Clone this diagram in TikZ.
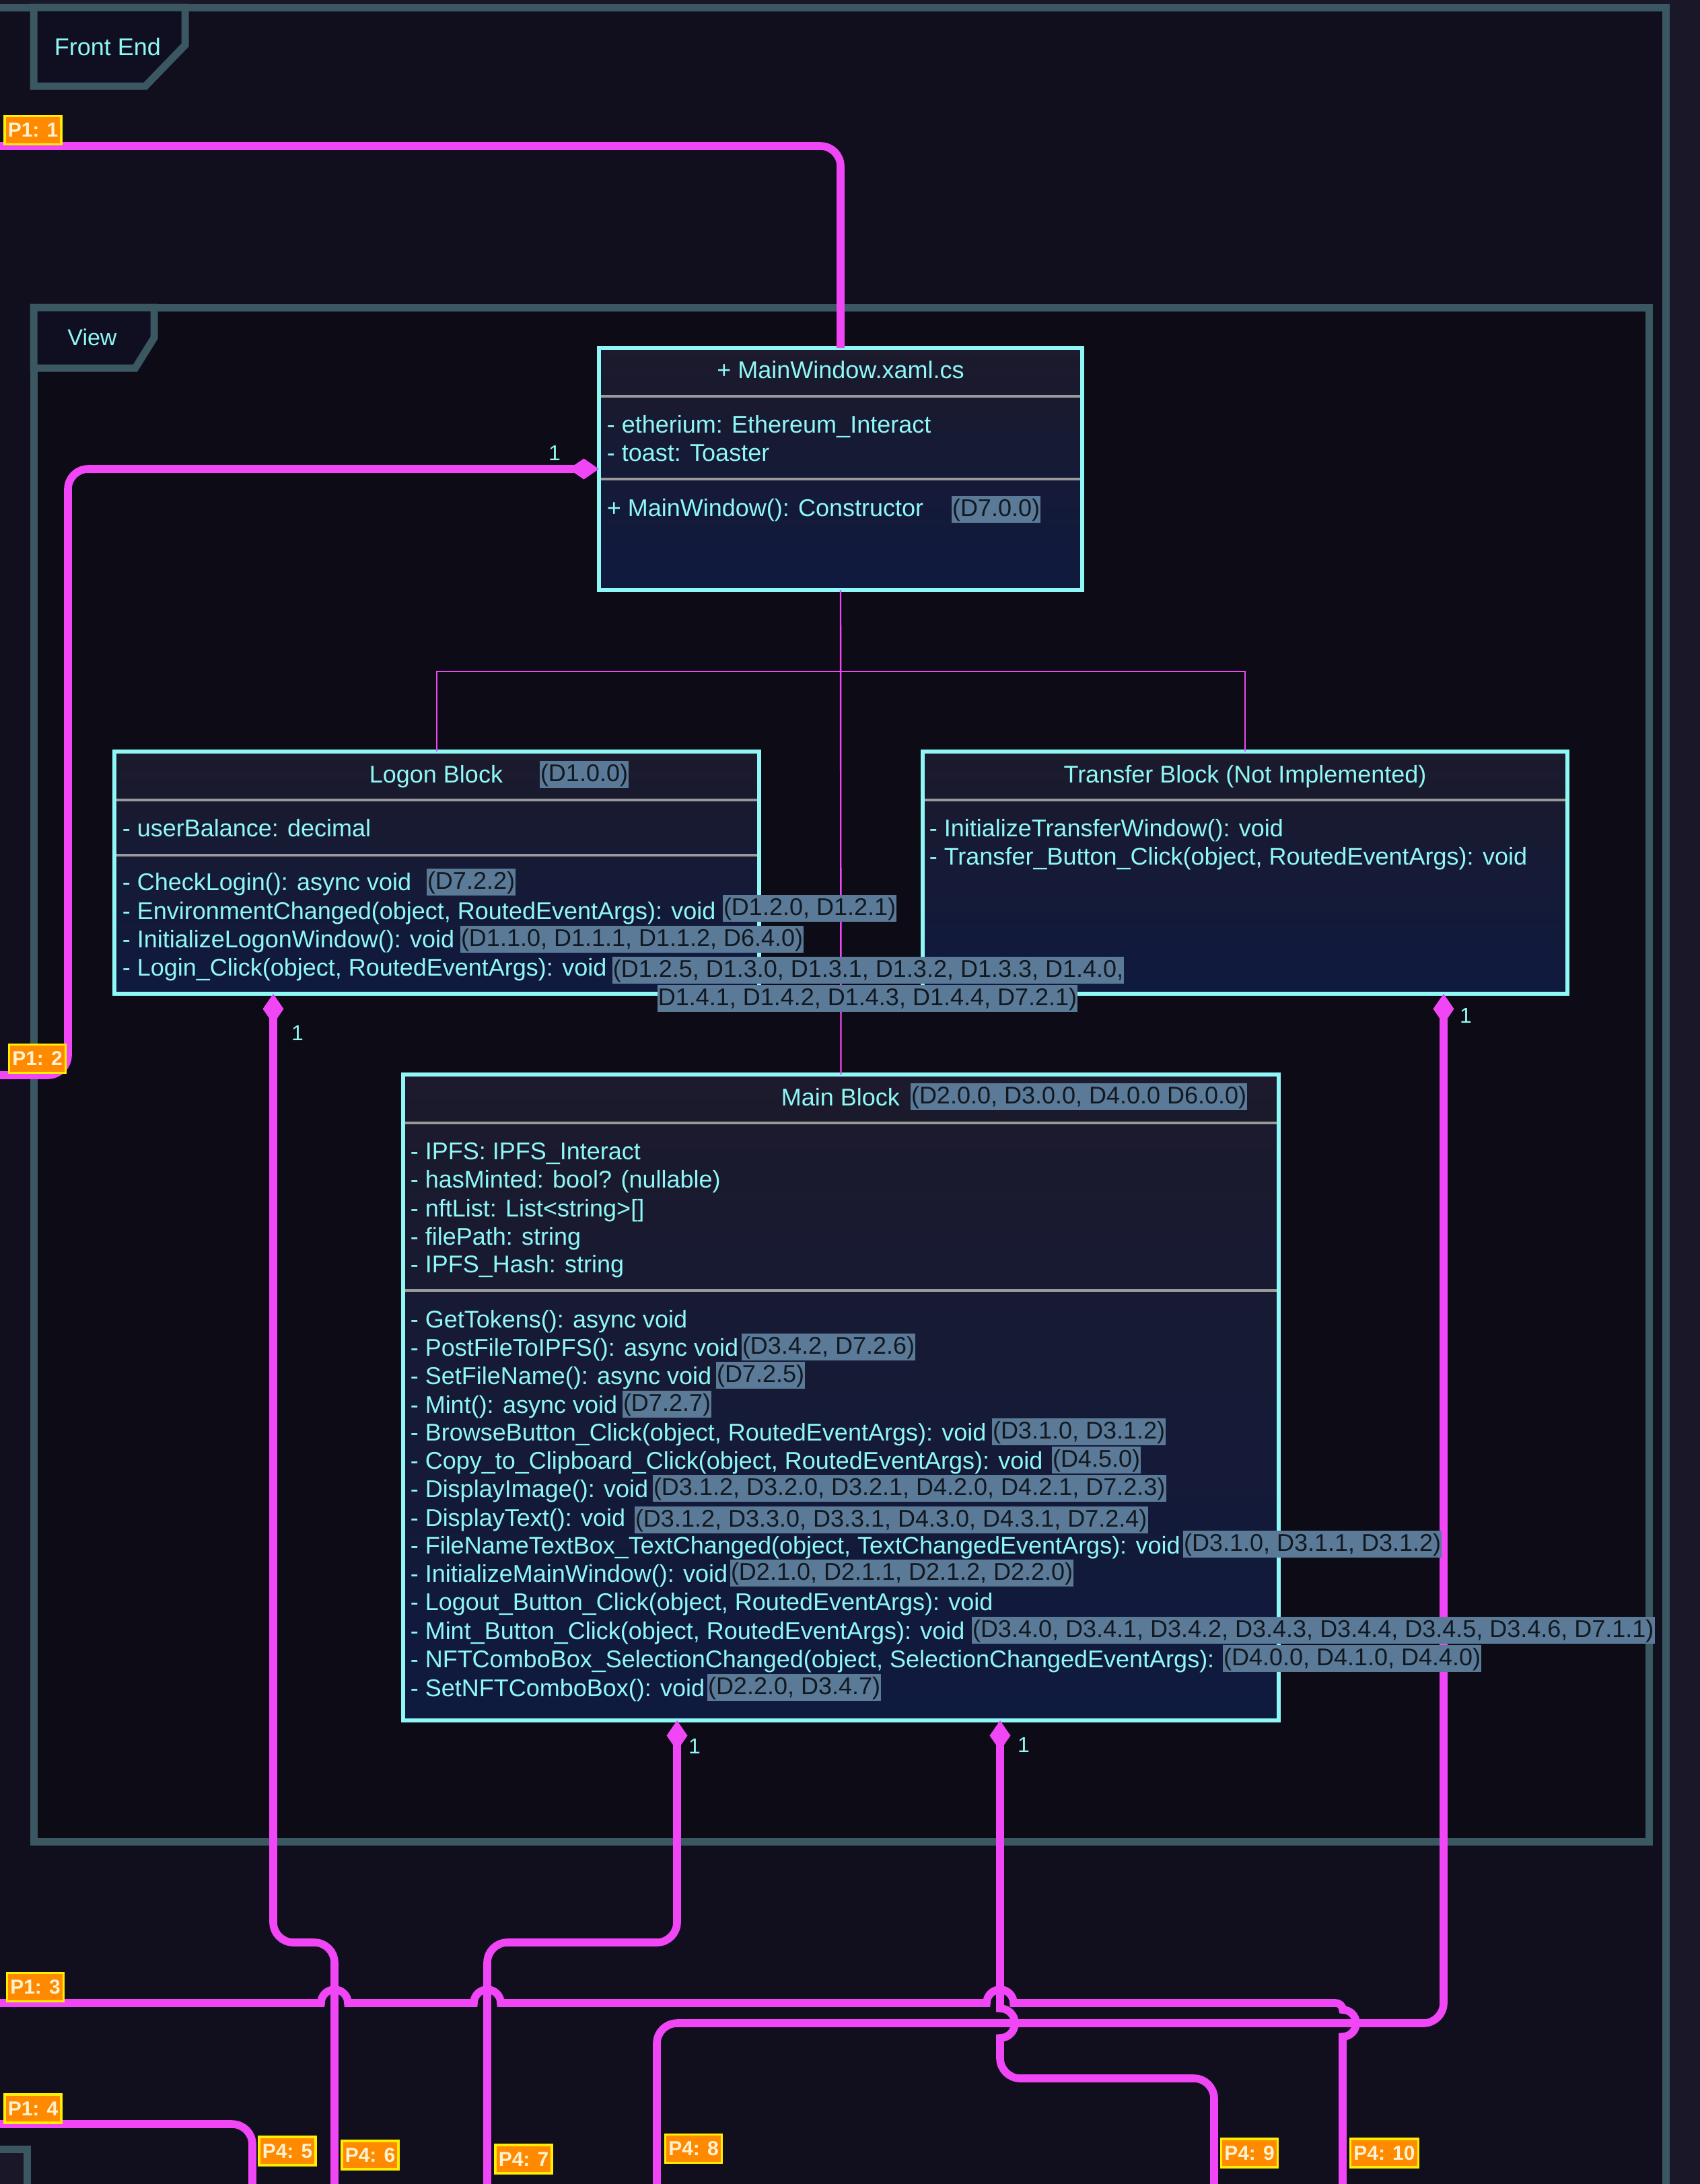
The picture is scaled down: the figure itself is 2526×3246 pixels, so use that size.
\documentclass[tikz,border=0pt]{standalone}
\usepackage{fontspec}
\setmainfont{Liberation Sans}
\usetikzlibrary{arrows.meta,shadings}

\definecolor{bgout}{HTML}{1A1828}
\definecolor{bgfe}{HTML}{110F1E}
\definecolor{bgview}{HTML}{0C0B16}
\definecolor{tabfill}{HTML}{0F0F21}
\definecolor{framec}{HTML}{3B5761}
\definecolor{cyantxt}{HTML}{8FF8F6}
\definecolor{boxtop}{HTML}{1C1A2C}
\definecolor{boxbot}{HTML}{0F1A3F}
\definecolor{sepc}{HTML}{9A9A9A}
\definecolor{tagc}{HTML}{5A7A98}
\definecolor{tagtxt}{HTML}{121820}
\definecolor{mag}{HTML}{F046F6}
\definecolor{lblfill}{HTML}{FF8A00}
\definecolor{lbledge}{HTML}{FFEE00}
\definecolor{lbltxt}{HTML}{FFF2D2}

\newcommand\clsfont{\fontsize{9}{11}\selectfont}
\newcommand\clsrow[4]{\node[ctext] (#1) at (#2,#3) {#4};}
\newcommand\clstag[4]{\node[tagbox] (#1) at (#2,#3) {#4};}

\begin{document}
\begin{tikzpicture}[x=0.25pt,y=-0.25pt,
  frame/.style={draw=framec,line width=2.75pt},
  classbox/.style={draw=cyantxt,line width=1.5pt,top color=boxtop,bottom color=boxbot,inner sep=0pt,outer sep=0pt,anchor=north west},
  sepline/.style={draw=sepc,line width=1pt},
  ctext/.style={text=cyantxt,font=\clsfont,inner sep=0pt,anchor=base west},
  tagbox/.style={fill=tagc,text=tagtxt,font=\clsfont,inner xsep=0.3pt,inner ysep=0pt,text height=7.4pt,text depth=2.6pt,anchor=base west},
  conn/.style={draw=mag,line width=2.9pt,rounded corners=7.5pt},
  tree/.style={draw=mag,line width=0.6pt},
  comp/.style={{Diamond[length=11.25pt,width=7.75pt]}-},
  compend/.style={-{Diamond[length=11.25pt,width=7.75pt]}},
  mult/.style={text=cyantxt,font=\fontsize{8}{10}\selectfont,inner sep=0pt},
  lbl/.style={fill=lblfill,draw=lbledge,line width=0.8pt,text=lbltxt,font=\bfseries\fontsize{7.5}{9}\selectfont,inner xsep=1.2pt,inner ysep=0pt,minimum height=10.5pt}
]
\useasboundingbox (0,0) rectangle (2526,3246);
% backgrounds and frames
\fill[bgout] (0,0) rectangle (2526,3246);
\fill[bgfe] (-20,11) rectangle (2475,3270);
\fill[bgout] (-20,3194) rectangle (40,3270);
\draw[frame] (-20,3194) -- (40,3194) -- (40,3270);
\draw[frame] (-20,11) -- (2475,11) -- (2475,3270);
\draw[frame,fill=tabfill] (50,11) -- (275,11) -- (275,67) -- (216,128) -- (50,128) -- cycle;
\node[text=cyantxt,font=\clsfont,inner sep=0pt,anchor=base] (fe) at (160,82) {Front End};
\draw[frame,fill=bgview] (50,457) rectangle (2450,2737);
\draw[frame,fill=tabfill] (50,457) -- (229,457) -- (229,502) -- (201,547) -- (50,547) -- cycle;
\node[text=cyantxt,font=\fontsize{8.5}{10}\selectfont,inner sep=0pt,anchor=base] (view) at (137,513) {View};

% class boxes
\node[classbox,minimum width=179.5pt,minimum height=90pt] (mw) at (890,517) {};
\node[classbox,minimum width=239.5pt,minimum height=90pt] (lg) at (170,1117) {};
\node[classbox,minimum width=239.5pt,minimum height=90pt] (tb) at (1371,1117) {};
\node[classbox,minimum width=325.25pt,minimum height=240pt] (mb) at (599,1597) {};

% separators
\draw[sepline] ([xshift=0.75pt,yshift=-18pt]mw.north west) -- ([xshift=-0.75pt,yshift=-18pt]mw.north east);
\draw[sepline] ([xshift=0.75pt,yshift=-48.75pt]mw.north west) -- ([xshift=-0.75pt,yshift=-48.75pt]mw.north east);
\draw[sepline] ([xshift=0.75pt,yshift=-18pt]lg.north west) -- ([xshift=-0.75pt,yshift=-18pt]lg.north east);
\draw[sepline] ([xshift=0.75pt,yshift=-38.5pt]lg.north west) -- ([xshift=-0.75pt,yshift=-38.5pt]lg.north east);
\draw[sepline] ([xshift=0.75pt,yshift=-18pt]tb.north west) -- ([xshift=-0.75pt,yshift=-18pt]tb.north east);
\draw[sepline] ([xshift=0.75pt,yshift=-18pt]mb.north west) -- ([xshift=-0.75pt,yshift=-18pt]mb.north east);
\draw[sepline] ([xshift=0.75pt,yshift=-80.25pt]mb.north west) -- ([xshift=-0.75pt,yshift=-80.25pt]mb.north east);

% MainWindow text
\node[ctext,anchor=base] (mwt) at (1249,562) {+ MainWindow.xaml.cs};
\clsrow{mwa1}{901}{643}{- etherium: Ethereum\_Interact}
\clsrow{mwa2}{901}{685}{- toast: Toaster}
\clsrow{mwm1}{901}{767}{+ MainWindow(): Constructor}

% Logon text
\node[ctext,anchor=base] (lgt) at (648,1163) {Logon Block};
\clsrow{lga1}{181}{1243}{- userBalance: decimal}
\clsrow{lgm1}{181}{1323}{- CheckLogin(): async void}
\clsrow{lgm2}{181}{1366}{- EnvironmentChanged(object, RoutedEventArgs): void}
\clsrow{lgm3}{181}{1408}{- InitializeLogonWindow(): void}
\clsrow{lgm4}{181}{1450}{- Login\_Click(object, RoutedEventArgs): void}

% Transfer text
\node[ctext,anchor=base] (tbt) at (1850,1163) {Transfer Block (Not Implemented)};
\clsrow{tbm1}{1380}{1243}{- InitializeTransferWindow(): void}
\clsrow{tbm2}{1380}{1285}{- Transfer\_Button\_Click(object, RoutedEventArgs): void}

% Main Block text
\clsrow{mbt}{1160}{1643}{Main Block}
\clsrow{mba1}{609}{1723}{- IPFS: IPFS\_Interact}
\clsrow{mba2}{609}{1765}{- hasMinted: bool? (nullable)}
\clsrow{mba3}{609}{1808}{- nftList: List<string>[]}
\clsrow{mba4}{609}{1850}{- filePath: string}
\clsrow{mba5}{609}{1891}{- IPFS\_Hash: string}
\clsrow{mbm1}{609}{1973}{- GetTokens(): async void}
\clsrow{mbm2}{609}{2015}{- PostFileToIPFS(): async void}
\clsrow{mbm3}{609}{2057}{- SetFileName(): async void}
\clsrow{mbm4}{609}{2100}{- Mint(): async void}
\clsrow{mbm5}{609}{2141}{- BrowseButton\_Click(object, RoutedEventArgs): void}
\clsrow{mbm6}{609}{2183}{- Copy\_to\_Clipboard\_Click(object, RoutedEventArgs): void}
\clsrow{mbm7}{609}{2225}{- DisplayImage(): void}
\clsrow{mbm8}{609}{2268}{- DisplayText(): void}
\clsrow{mbm9}{609}{2309}{- FileNameTextBox\_TextChanged(object, TextChangedEventArgs): void}
\clsrow{mbm10}{609}{2351}{- InitializeMainWindow(): void}
\clsrow{mbm11}{609}{2393}{- Logout\_Button\_Click(object, RoutedEventArgs): void}
\clsrow{mbm12}{609}{2436}{- Mint\_Button\_Click(object, RoutedEventArgs): void}
\clsrow{mbm13}{609}{2478}{- NFTComboBox\_SelectionChanged(object, SelectionChangedEventArgs):}
\clsrow{mbm14}{609}{2521}{- SetNFTComboBox(): void}

% thin tree
\draw[tree] (mw.south) -- (mb.north);
\draw[tree] (lg.north) -- ++(0,-119) -| (tb.north);

% free ends
\coordinate (p11) at (-20,217);
\coordinate (p12) at (-20,1598);
\coordinate (p13) at (-20,2977);
\coordinate (p14) at (-20,3157);
\coordinate (p45) at (375,3270);
\coordinate (p46) at (497,3270);
\coordinate (p47) at (724,3270);
\coordinate (p48) at (976,3270);
\coordinate (p49) at (1804,3270);
\coordinate (p410) at (1995,3270);

% connectors
\draw[conn] (p11) -| (mw.north);
\draw[conn,compend] (p12) -- ++(121,0) |- (mw.west);
\draw[conn,comp] ([xshift=59pt]lg.south west) -- ++(0,1410) -| (p46);
\draw[conn,comp] ([xshift=101.75pt]mb.south west) -- ++(0,330) -| (p47);
\draw[conn,comp] ([xshift=193.5pt]tb.south west) -- ++(0,1530) -| (p48);
\draw[conn,comp,sharp corners] ([xshift=221.75pt]mb.south west) -- ++(0,428)
  arc[start angle=-90,end angle=90,radius=22] -- ++(0,30)
  arc[start angle=180,end angle=90,radius=30] -- ++(258,0)
  arc[start angle=-90,end angle=0,radius=30] -- (p49);
\draw[conn,sharp corners] (p13) -- (477,2977) arc[start angle=180,end angle=360,radius=20]
  -- (704,2977) arc[start angle=180,end angle=360,radius=20]
  -- (1466,2977) arc[start angle=180,end angle=360,radius=20]
  -- (1985,2977) arc[start angle=-90,end angle=0,radius=10]
  arc[start angle=-90,end angle=90,radius=20] -- (p410);
\draw[conn] (p14) -| (p45);

% requirement tags (on top of connectors)
\clstag{mwg1}{1413}{767}{(D7.0.0)}
\clstag{lgg0}{801}{1161}{(D1.0.0)}
\clstag{lgg1}{633}{1321}{(D7.2.2)}
\clstag{lgg2}{1073}{1360}{(D1.2.0, D1.2.1)}
\clstag{lgg3}{683}{1406}{(D1.1.0, D1.1.1, D1.1.2, D6.4.0)}
\node[tagbox,anchor=base] (lgg4a) at (1290,1452) {(D1.2.5, D1.3.0, D1.3.1, D1.3.2, D1.3.3, D1.4.0,};
\node[tagbox,anchor=base] (lgg4b) at (1289,1494) {D1.4.1, D1.4.2, D1.4.3, D1.4.4, D7.2.1)};
\clstag{mbg0}{1352}{1640}{(D2.0.0, D3.0.0, D4.0.0 D6.0.0)}
\clstag{mbg2}{1101}{2012}{(D3.4.2, D7.2.6)}
\clstag{mbg3}{1063}{2054}{(D7.2.5)}
\clstag{mbg4}{924}{2097}{(D7.2.7)}
\clstag{mbg5}{1473}{2138}{(D3.1.0, D3.1.2)}
\clstag{mbg6}{1562}{2180}{(D4.5.0)}
\clstag{mbg7}{969}{2222}{(D3.1.2, D3.2.0, D3.2.1, D4.2.0, D4.2.1, D7.2.3)}
\clstag{mbg8}{942}{2269}{(D3.1.2, D3.3.0, D3.3.1, D4.3.0, D4.3.1, D7.2.4)}
\clstag{mbg9}{1757}{2305}{(D3.1.0, D3.1.1, D3.1.2)}
\clstag{mbg10}{1084}{2348}{(D2.1.0, D2.1.1, D2.1.2, D2.2.0)}
\clstag{mbg12}{1443}{2433}{(D3.4.0, D3.4.1, D3.4.2, D3.4.3, D3.4.4, D3.4.5, D3.4.6, D7.1.1)}
\clstag{mbg13}{1816}{2475}{(D4.0.0, D4.1.0, D4.4.0)}
\clstag{mbg14}{1050}{2518}{(D2.2.0, D3.4.7)}

% multiplicities
\node[mult] (m1) at (824,673) {1};
\node[mult] (m2) at (442,1535) {1};
\node[mult] (m3) at (2178,1509) {1};
\node[mult] (m4) at (1032,2595) {1};
\node[mult] (m5) at (1521,2593) {1};

% port labels
\node[lbl] (l11) at (49,193.5) {P1: 1};
\node[lbl] (l12) at (55.5,1573.5) {P1: 2};
\node[lbl] (l13) at (52.5,2953.5) {P1: 3};
\node[lbl] (l14) at (49,3134) {P1: 4};
\node[lbl] (l45) at (427,3197) {P4: 5};
\node[lbl] (l46) at (550,3203) {P4: 6};
\node[lbl] (l47) at (778,3209) {P4: 7};
\node[lbl] (l48) at (1030.5,3193.5) {P4: 8};
\node[lbl] (l49) at (1856.5,3200) {P4: 9};
\node[lbl] (l410) at (2057,3200) {P4: 10};
\end{tikzpicture}
\end{document}
